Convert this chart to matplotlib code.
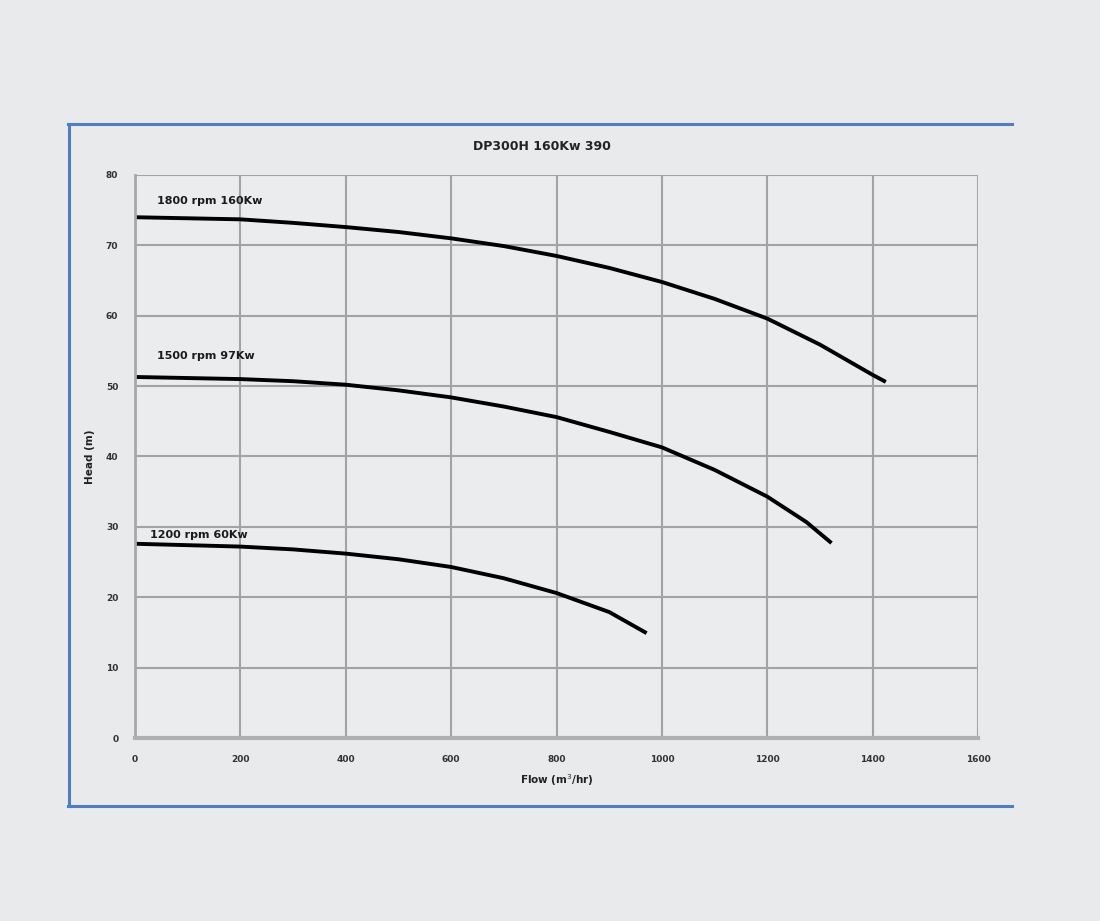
import matplotlib
matplotlib.use("Agg")
import matplotlib.pyplot as plt
from matplotlib.lines import Line2D

# pump curves
flow_1800 = [0, 200, 300, 400, 500, 600, 700, 800, 900, 1000, 1100, 1200, 1300, 1400, 1425]
head_1800 = [74.0, 73.7, 73.2, 72.6, 71.9, 71.0, 69.9, 68.5, 66.8, 64.8, 62.4, 59.6, 55.9, 51.6, 50.6]

flow_1500 = [0, 200, 300, 400, 500, 600, 700, 800, 900, 1000, 1100, 1200, 1274, 1322]
head_1500 = [51.3, 51.0, 50.7, 50.2, 49.4, 48.4, 47.1, 45.6, 43.5, 41.3, 38.1, 34.3, 30.7, 27.7]

flow_1200 = [0, 200, 300, 400, 500, 600, 700, 800, 900, 971]
head_1200 = [27.6, 27.2, 26.8, 26.2, 25.4, 24.3, 22.7, 20.6, 17.9, 14.9]

curve_labels = ["1800 rpm 160Kw", "1500 rpm 97Kw", "1200 rpm 60Kw"]
label_pos = [(42, 76.3), (42, 54.3), (28, 28.9)]

x_ticks = [0, 200, 400, 600, 800, 1000, 1200, 1400, 1600]
y_ticks = [0, 10, 20, 30, 40, 50, 60, 70, 80]

bg = "#e8eaeb"
fig = plt.figure(figsize=(11, 9.21), dpi=100, facecolor=bg)

# blue frame of the chart panel (top, left, bottom)
blue = "#4f7fc2"
W, H = 1100, 921
def px(x, y):
    return x / W, 1 - y / H
for (x0, y0), (x1, y1) in [((68, 124), (1012, 124)), ((69, 124), (69, 806)), ((68, 806), (1012, 806))]:
    a, b = px(x0, y0)
    c, d = px(x1, y1)
    fig.add_artist(Line2D([a, c], [b, d], color=blue, lw=2.2, transform=fig.transFigure))

ax = fig.add_axes([135 / W, 1 - 738 / H, (978 - 135) / W, (738 - 175) / H])
ax.set_facecolor("#eaeced")

ax.plot(flow_1800, head_1800, color="black", lw=2.8, solid_capstyle="butt")
ax.plot(flow_1500, head_1500, color="black", lw=2.8, solid_capstyle="butt")
ax.plot(flow_1200, head_1200, color="black", lw=2.8, solid_capstyle="butt")

for txt, (x, y) in zip(curve_labels, label_pos):
    ax.text(x, y, txt, fontsize=8, fontweight="bold", color="#1a1a1a", va="center")

ax.set_xlim(0, 1600)
ax.set_ylim(0, 80)
ax.set_xticks(x_ticks)
ax.set_yticks(y_ticks)
ax.tick_params(labelsize=6.5, colors="#333333", length=0, pad=12)
for lab in ax.get_xticklabels() + ax.get_yticklabels():
    lab.set_fontweight("bold")

ax.grid(True, color="#a3a3a3", lw=1.5)
ax.set_axisbelow(True)
for s in ["top", "right"]:
    ax.spines[s].set_visible(False)
ax.spines["left"].set_color("#a8a8a8")
ax.spines["left"].set_linewidth(2)
ax.spines["bottom"].set_color("#b0b0b0")
ax.spines["bottom"].set_linewidth(3)

ax.set_xlabel("Flow (m$^3$/hr)", fontsize=7.5, fontweight="bold", color="#222222", labelpad=6)
ax.set_ylabel("Head (m)", fontsize=7.5, fontweight="bold", color="#222222", labelpad=8)

fig.text(542 / W, 1 - 146 / H, "DP300H 160Kw 390", fontsize=9, fontweight="bold",
         color="#222222", ha="center", va="center")

fig.savefig("out.png", dpi=100, facecolor=bg)
